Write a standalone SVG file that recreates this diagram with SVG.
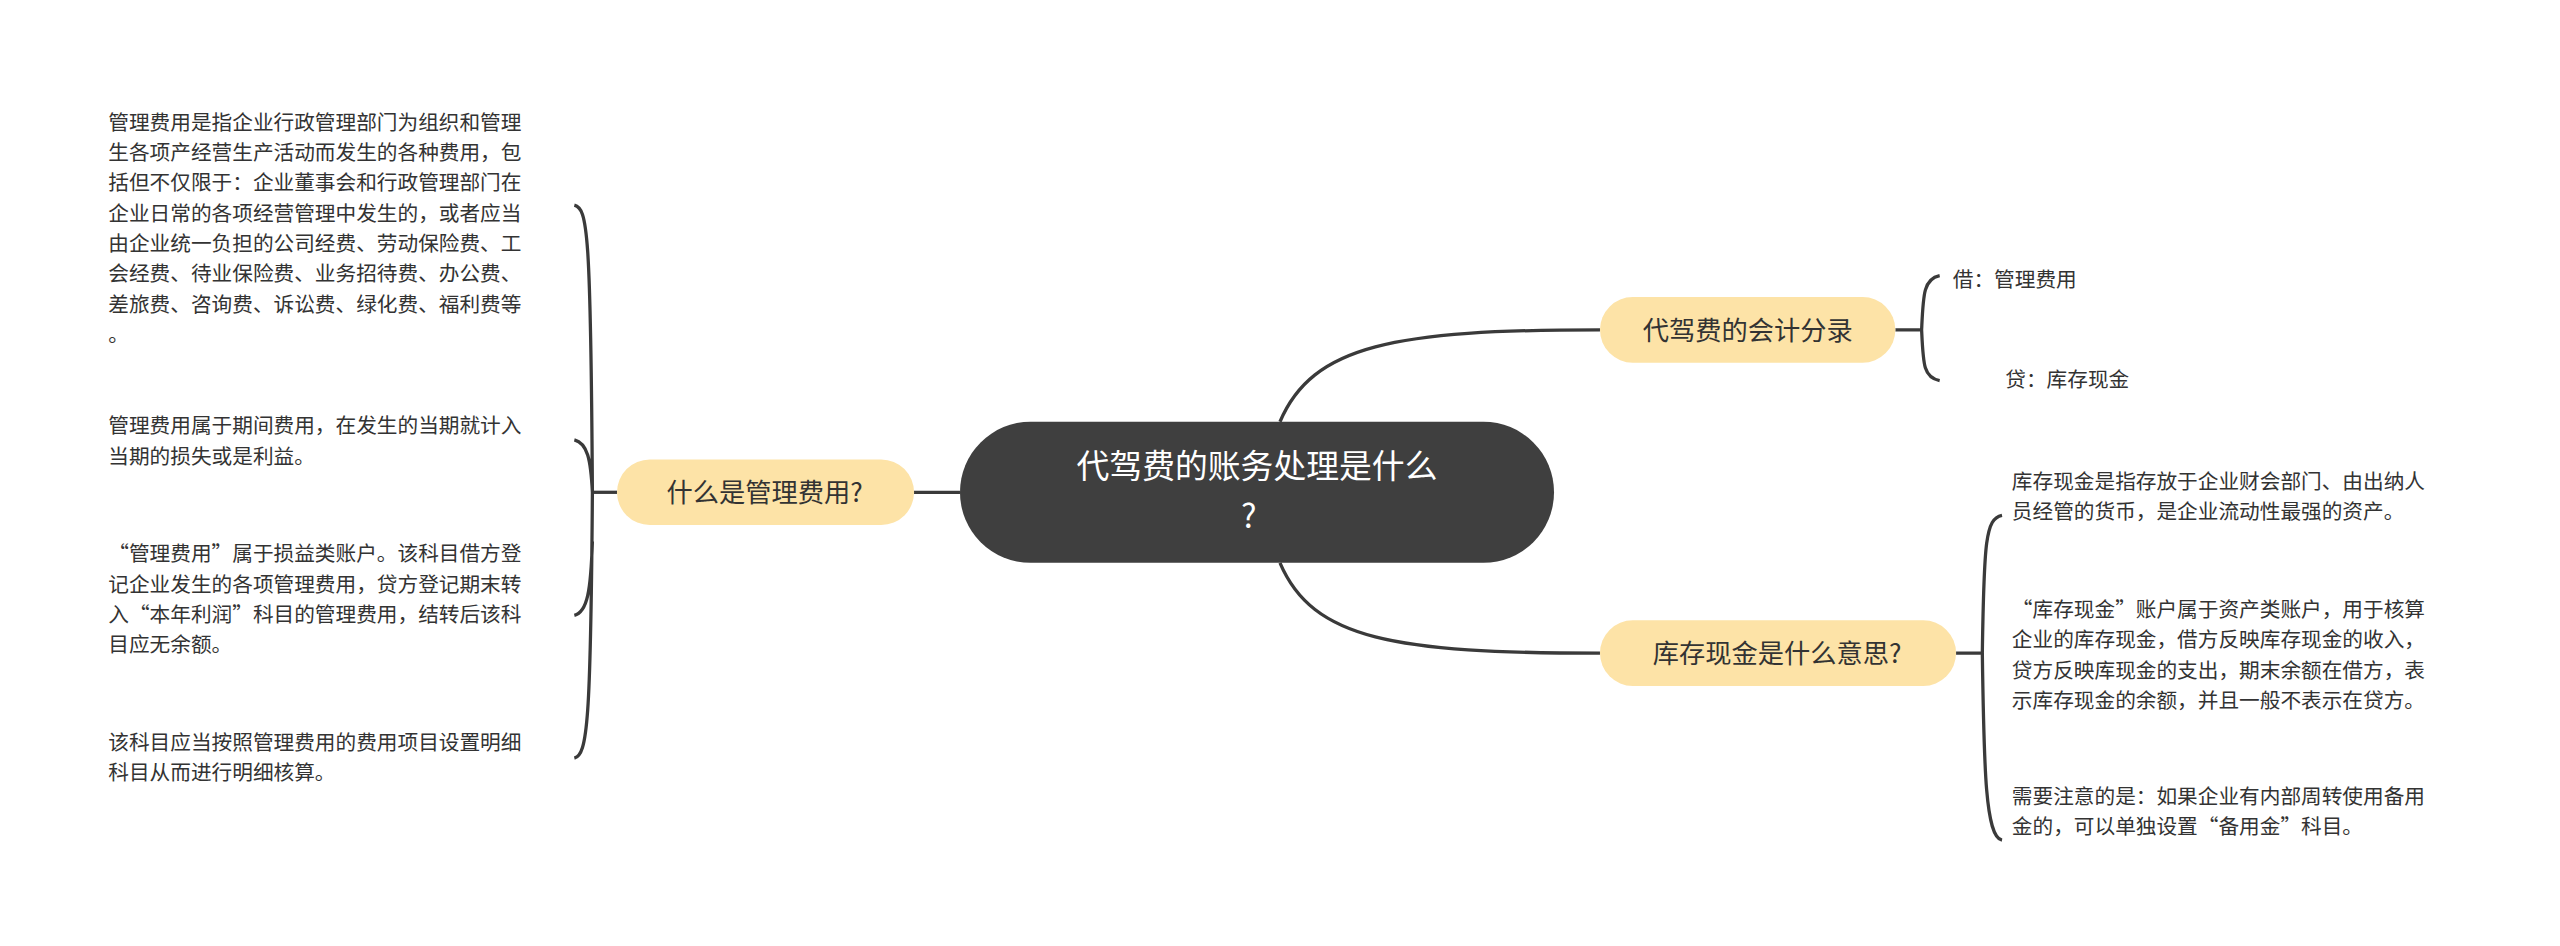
<svg xmlns="http://www.w3.org/2000/svg" width="2560" height="946" viewBox="0 0 2560 946">
<style>
.t{font-family:"Noto Sans CJK SC","Liberation Sans",sans-serif;fill:#333}
.leaf{font-size:12.6px}
.sub{font-size:16px}
.c{fill:none;stroke:#3a3a3a;stroke-width:2}
.n{fill:#fde3a7}
</style>
<rect width="2560" height="946" fill="#fff"/>
<g transform="scale(1.641)">
<g id="connectors">
<path class="c" d="M780 257 C800 210 850 201 975 201"/>
<path class="c" d="M780 343 C800 390 850 398 975 398"/>
<path class="c" d="M557 300 H585"/>
<path class="c" d="M1155 201 H1170 M1182 168 C1172 170 1172 180 1171 201 C1172 222 1172 230 1182 232"/>
<path class="c" d="M1192 398 H1207 M1220 314 C1210 316 1209 330 1208 398 C1209 470 1210 510 1220 512"/>
<path class="c" d="M350 125 C358 127 360 140 361 300 C360 440 358 460 350 462 M350 268 C358 270 360 280 361 300 M350 375 C358 373 360 360 361 330"/>
<path class="c" d="M361 300 H376"/>
</g>
<g id="center">
<rect x="585" y="257" width="362" height="86" rx="43" fill="#3f3f3f"/>
<text class="t" x="766" y="291" font-size="20" text-anchor="middle" style="fill:#fff">代驾费的账务处理是什么</text>
<text class="t" x="761" y="322" font-size="20" text-anchor="middle" style="fill:#fff">?</text>
</g>
<g id="n-entry">
<rect class="n" x="975" y="181" width="180" height="40" rx="20"/>
<text class="t sub" x="1065" y="207" text-anchor="middle">代驾费的会计分录</text>
</g>
<g id="n-cash">
<rect class="n" x="975" y="378" width="217" height="40" rx="20"/>
<text class="t sub" x="1083" y="404" text-anchor="middle">库存现金是什么意思?</text>
</g>
<g id="n-mgmt">
<rect class="n" x="376" y="280" width="181" height="40" rx="20"/>
<text class="t sub" x="466" y="306" text-anchor="middle">什么是管理费用?</text>
</g>
<g id="leaf-debit"><text class="t leaf" x="1190" y="175">借：管理费用</text></g>
<g id="leaf-credit"><text class="t leaf" x="1222" y="236">贷：库存现金</text></g>
<g id="leaf-cash1"><text class="t leaf" x="1226" y="298">库存现金是指存放于企业财会部门、由出纳人<tspan x="1226" dy="18.5">员经管的货币，是企业流动性最强的资产。</tspan></text></g>
<g id="leaf-cash2"><text class="t leaf" x="1226" y="376">“库存现金”账户属于资产类账户，用于核算<tspan x="1226" dy="18.5">企业的库存现金，借方反映库存现金的收入，</tspan><tspan x="1226" dy="18.5">贷方反映库现金的支出，期末余额在借方，表</tspan><tspan x="1226" dy="18.5">示库存现金的余额，并且一般不表示在贷方。</tspan></text></g>
<g id="leaf-cash3"><text class="t leaf" x="1226" y="490">需要注意的是：如果企业有内部周转使用备用<tspan x="1226" dy="18.5">金的，可以单独设置“备用金”科目。</tspan></text></g>
<g id="leaf-m1"><text class="t leaf" x="66" y="79">管理费用是指企业行政管理部门为组织和管理<tspan x="66" dy="18.5">生各项产经营生产活动而发生的各种费用，包</tspan><tspan x="66" dy="18.5">括但不仅限于：企业董事会和行政管理部门在</tspan><tspan x="66" dy="18.5">企业日常的各项经营管理中发生的，或者应当</tspan><tspan x="66" dy="18.5">由企业统一负担的公司经费、劳动保险费、工</tspan><tspan x="66" dy="18.5">会经费、待业保险费、业务招待费、办公费、</tspan><tspan x="66" dy="18.5">差旅费、咨询费、诉讼费、绿化费、福利费等</tspan><tspan x="66" dy="18.5">。</tspan></text></g>
<g id="leaf-m2"><text class="t leaf" x="66" y="264">管理费用属于期间费用，在发生的当期就计入<tspan x="66" dy="18.5">当期的损失或是利益。</tspan></text></g>
<g id="leaf-m3"><text class="t leaf" x="66" y="342">“管理费用”属于损益类账户。该科目借方登<tspan x="66" dy="18.5">记企业发生的各项管理费用，贷方登记期末转</tspan><tspan x="66" dy="18.5">入“本年利润”科目的管理费用，结转后该科</tspan><tspan x="66" dy="18.5">目应无余额。</tspan></text></g>
<g id="leaf-m4"><text class="t leaf" x="66" y="457">该科目应当按照管理费用的费用项目设置明细<tspan x="66" dy="18.5">科目从而进行明细核算。</tspan></text></g>
</g>
</svg>
